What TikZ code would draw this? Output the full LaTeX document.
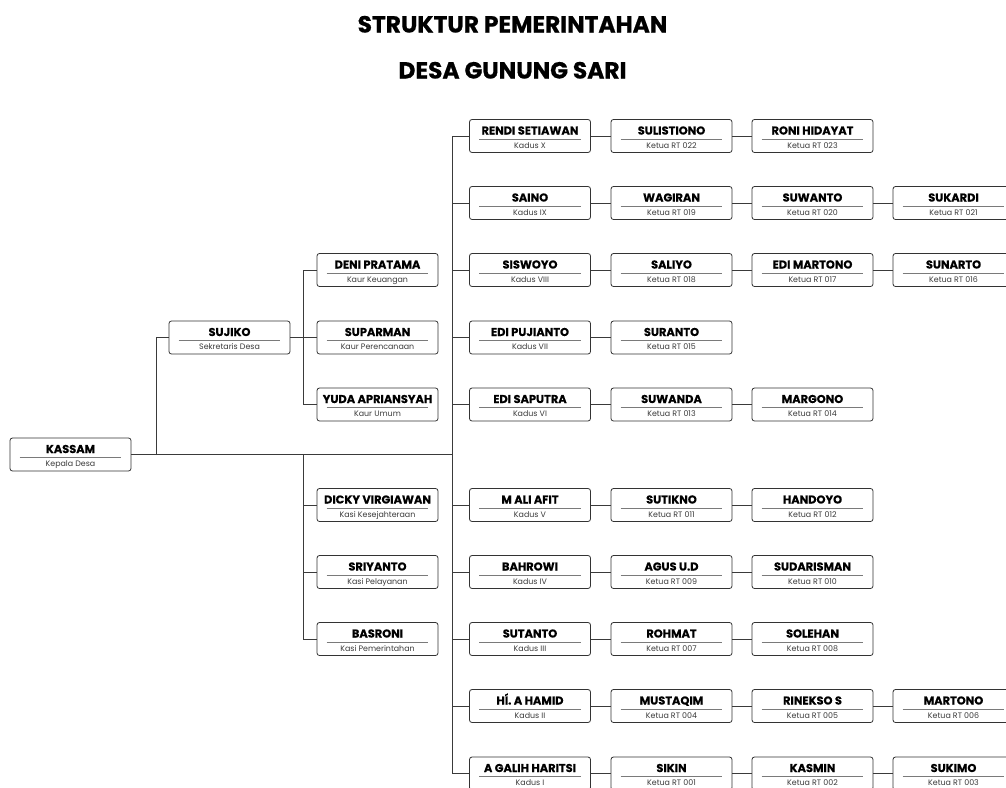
\documentclass[tikz,border=0pt]{standalone}
\usepackage{fontspec}
\setmainfont{Poppins}
\newfontfamily\namefont{Poppins}[BoldFeatures={FakeBold=0.35}]
\newfontfamily\headfont{Poppins}[BoldFeatures={FakeBold=0.7}]
\definecolor{boxline}{HTML}{333333}
\definecolor{sepline}{HTML}{7A7A7A}
\definecolor{conline}{HTML}{3A3A3A}
\definecolor{subtext}{HTML}{3A3A3A}
\tikzset{
  obox/.style={draw=boxline, line width=0.8pt, rounded corners=2.5pt, fill=white,
    minimum width=121pt, minimum height=33pt, inner sep=0pt},
  otitle/.style={anchor=base, inner sep=0pt, font=\namefont\fontsize{11.4}{13}\selectfont\bfseries},
  osub/.style={anchor=base, inner sep=0pt, text=subtext, font=\fontsize{7.9}{9}\selectfont},
  oline/.style={draw=sepline, line width=1pt},
  conn/.style={draw=conline, line width=0.8pt},
  headline/.style={anchor=base, inner sep=0pt, font=\headfont\fontsize{23.3}{27}\selectfont\bfseries}
}
\newcommand\orgbox[5]{%
  \node[obox] (#1) at (#2,#3) {};
  \node[otitle] (#1-t) at ([yshift=-15.4pt]#1.north) {#4};
  \draw[oline] ([xshift=10pt,yshift=-20.3pt]#1.north west) -- ([xshift=-10pt,yshift=-20.3pt]#1.north east);
  \node[osub] (#1-s) at ([yshift=-29.3pt]#1.north) {#5};
}
\begin{document}
\begin{tikzpicture}[x=1pt,y=-1pt]
\clip (0,0) rectangle (1006,787);
\fill[white] (0,0) rectangle (1006,787);

% title
\node[headline] (head1) at (512.5,32.5) {STRUKTUR PEMERINTAHAN};
\node[headline] (head2) at (512.5,78.5) {DESA GUNUNG SARI};

% trunk coordinates
\coordinate (kt) at (452,136);   % kadus trunk top
\coordinate (kb) at (452,773.5); % kadus trunk bottom
\coordinate (st) at (156,455);   % sekretaris branch
\coordinate (ut) at (303,270);   % upper staff trunk
\coordinate (ub) at (303,404.5);
\coordinate (lt) at (303,455);   % lower staff trunk
\coordinate (lb) at (303,639);

% boxes
\orgbox{kassam}{70.5}{454.5}{KASSAM}{Kepala Desa}
\orgbox{sujiko}{229.5}{337.5}{SUJIKO}{Sekretaris Desa}

\orgbox{deni}{377.5}{270}{DENI PRATAMA}{Kaur Keuangan}
\orgbox{suparman}{377.5}{337.5}{SUPARMAN}{Kaur Perencanaan}
\orgbox{yuda}{377.5}{404.5}{YUDA APRIANSYAH}{Kaur Umum}
\orgbox{dicky}{377.5}{505}{DICKY VIRGIAWAN}{Kasi Kesejahteraan}
\orgbox{sriyanto}{377.5}{572}{SRIYANTO}{Kasi Pelayanan}
\orgbox{basroni}{377.5}{639}{BASRONI}{Kasi Pemerintahan}

\orgbox{k10}{530}{136}{RENDI SETIAWAN}{Kadus X}
\orgbox{k9}{530}{203}{SAINO}{Kadus IX}
\orgbox{k8}{530}{270}{SISWOYO}{Kadus VIII}
\orgbox{k7}{530}{337.5}{EDI PUJIANTO}{Kadus VII}
\orgbox{k6}{530}{404.5}{EDI SAPUTRA}{Kadus VI}
\orgbox{k5}{530}{505}{M ALI AFIT}{Kadus V}
\orgbox{k4}{530}{572}{BAHROWI}{Kadus IV}
\orgbox{k3}{530}{639}{SUTANTO}{Kadus III}
\orgbox{k2}{530}{706}{HÍ. A HAMID}{Kadus II}
\orgbox{k1}{530}{773.5}{A GALIH HARITSI}{Kadus I}

\orgbox{rt22}{671.5}{136}{SULISTIONO}{Ketua RT 022}
\orgbox{rt23}{812.5}{136}{RONI HIDAYAT}{Ketua RT 023}

\orgbox{rt19}{671.5}{203}{WAGIRAN}{Ketua RT 019}
\orgbox{rt20}{812.5}{203}{SUWANTO}{Ketua RT 020}
\orgbox{rt21}{953.5}{203}{SUKARDI}{Ketua RT 021}

\orgbox{rt18}{671.5}{270}{SALIYO}{Ketua RT 018}
\orgbox{rt17}{812.5}{270}{EDI MARTONO}{Ketua RT 017}
\orgbox{rt16}{953.5}{270}{SUNARTO}{Ketua RT 016}

\orgbox{rt15}{671.5}{337.5}{SURANTO}{Ketua RT 015}

\orgbox{rt13}{671.5}{404.5}{SUWANDA}{Ketua RT 013}
\orgbox{rt14}{812.5}{404.5}{MARGONO}{Ketua RT 014}

\orgbox{rt11}{671.5}{505}{SUTIKNO}{Ketua RT 011}
\orgbox{rt12}{812.5}{505}{HANDOYO}{Ketua RT 012}

\orgbox{rt09}{671.5}{572}{AGUS U.D}{Ketua RT 009}
\orgbox{rt10}{812.5}{572}{SUDARISMAN}{Ketua RT 010}

\orgbox{rt07}{671.5}{639}{ROHMAT}{Ketua RT 007}
\orgbox{rt08}{812.5}{639}{SOLEHAN}{Ketua RT 008}

\orgbox{rt04}{671.5}{706}{MUSTAQIM}{Ketua RT 004}
\orgbox{rt05}{812.5}{706}{RINEKSO S}{Ketua RT 005}
\orgbox{rt06}{953.5}{706}{MARTONO}{Ketua RT 006}

\orgbox{rt01}{671.5}{773.5}{SIKIN}{Ketua RT 001}
\orgbox{rt02}{812.5}{773.5}{KASMIN}{Ketua RT 002}
\orgbox{rt03}{953.5}{773.5}{SUKIMO}{Ketua RT 003}

% connectors
\draw[conn] (kassam.east) -- (kt |- kassam.east);
\draw[conn] (st) |- (sujiko.west);
\draw[conn] (sujiko.east) -- (suparman.west);
\draw[conn] (ut) -- (ub);
\draw[conn] (ut) -- (deni.west);
\draw[conn] (ub) -- (yuda.west);
\draw[conn] (lt) -- (lb);
\draw[conn] (lt |- dicky.west) -- (dicky.west);
\draw[conn] (lt |- sriyanto.west) -- (sriyanto.west);
\draw[conn] (lb) -- (basroni.west);
\draw[conn] (kt) -- (kb);
\foreach \k in {k10,k9,k8,k7,k6,k5,k4,k3,k2,k1}
  \draw[conn] (kt |- \k.west) -- (\k.west);

\draw[conn] (k10.east) -- (rt22.west);
\draw[conn] (rt22.east) -- (rt23.west);
\draw[conn] (k9.east) -- (rt19.west);
\draw[conn] (rt19.east) -- (rt20.west);
\draw[conn] (rt20.east) -- (rt21.west);
\draw[conn] (k8.east) -- (rt18.west);
\draw[conn] (rt18.east) -- (rt17.west);
\draw[conn] (rt17.east) -- (rt16.west);
\draw[conn] (k7.east) -- (rt15.west);
\draw[conn] (k6.east) -- (rt13.west);
\draw[conn] (rt13.east) -- (rt14.west);
\draw[conn] (k5.east) -- (rt11.west);
\draw[conn] (rt11.east) -- (rt12.west);
\draw[conn] (k4.east) -- (rt09.west);
\draw[conn] (rt09.east) -- (rt10.west);
\draw[conn] (k3.east) -- (rt07.west);
\draw[conn] (rt07.east) -- (rt08.west);
\draw[conn] (k2.east) -- (rt04.west);
\draw[conn] (rt04.east) -- (rt05.west);
\draw[conn] (rt05.east) -- (rt06.west);
\draw[conn] (k1.east) -- (rt01.west);
\draw[conn] (rt01.east) -- (rt02.west);
\draw[conn] (rt02.east) -- (rt03.west);
\end{tikzpicture}
\end{document}
